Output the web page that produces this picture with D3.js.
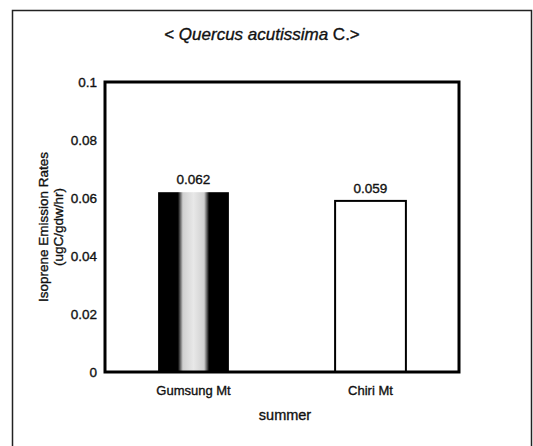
<!DOCTYPE html>
<html><head><meta charset="utf-8">
<script src="https://cdn.jsdelivr.net/npm/d3@7"></script>
<style>body{margin:0;background:#fff}svg{display:block}text{font-family:"Liberation Sans",Arial,sans-serif;fill:#111;stroke:#111;stroke-width:0.35px}</style>
</head><body>
<script>
const categories = ["Gumsung Mt", "Chiri Mt"];
const values = [0.062, 0.059];
const valueLabels = ["0.062", "0.059"];
const tickValues = [0, 0.02, 0.04, 0.06, 0.08, 0.1];
const tickLabels = ["0", "0.02", "0.04", "0.06", "0.08", "0.1"];
const titleParts = [["< ", "normal"], ["Quercus acutissima", "italic"], [" C.>", "normal"]];
const yTitle = ["Isoprene Emission Rates", "(ugC/gdw/hr)"];
const xTitle = "summer";

const W = 533, H = 446;
const m = {left: 105, top: 82, right: 459, bottom: 372};
const svg = d3.select("body").append("svg").attr("width", W).attr("height", H);

// outer frame
svg.append("rect").attr("x", 12.5).attr("y", 10.5).attr("width", 519).attr("height", 460)
  .attr("fill", "none").attr("stroke", "#222").attr("stroke-width", 1.5);

const defs = svg.append("defs");
const g1 = defs.append("linearGradient").attr("id", "gsg").attr("x1", "0").attr("x2", "1").attr("y1", "0").attr("y2", "0");
[[0,"#000"],[0.28,"#000"],[0.35,"#d0d0d0"],[0.5,"#e8e8e8"],[0.65,"#d0d0d0"],[0.72,"#000"],[1,"#000"]]
  .forEach(([o,c]) => g1.append("stop").attr("offset", o).attr("stop-color", c));

const x = d3.scaleBand().domain(categories).range([m.left, m.right]).paddingInner(0.6).paddingOuter(0.3);
const y = d3.scaleLinear().domain([0, 0.1]).range([m.bottom, m.top]);

// title
const t = svg.append("text").attr("x", 262).attr("y", 40).attr("text-anchor", "middle").style("font-size", "17px");
titleParts.forEach(([s, st]) => t.append("tspan").text(s).style("font-style", st));

// bars
svg.selectAll("rect.bar").data(categories).join("rect").attr("class", "bar")
  .attr("x", d => x(d)).attr("width", x.bandwidth())
  .attr("y", (d, i) => y(values[i])).attr("height", (d, i) => y(0) - y(values[i]))
  .attr("fill", (d, i) => i === 0 ? "url(#gsg)" : "#fff")
  .attr("stroke", (d, i) => i === 0 ? "none" : "#000").attr("stroke-width", 2);

// value labels
svg.selectAll("text.val").data(categories).join("text").attr("class", "val")
  .attr("x", d => x(d) + x.bandwidth() / 2).attr("y", (d, i) => y(values[i]) - 8)
  .attr("text-anchor", "middle").style("font-size", "13.5px").text((d, i) => valueLabels[i]);

// y axis
const ya = d3.axisLeft(y).tickValues(tickValues).tickFormat((d, i) => tickLabels[i]).tickSize(0).tickPadding(8);
const yg = svg.append("g").attr("transform", `translate(${m.left},0)`).call(ya);
yg.select(".domain").remove();
yg.selectAll("text").style("font-size", "13.5px").attr("fill", "#111").style("font-family", "Liberation Sans, Arial, sans-serif");

// x axis labels
const xa = d3.axisBottom(x).tickSize(0).tickPadding(14);
const xg = svg.append("g").attr("transform", `translate(0,${m.bottom})`).call(xa);
xg.select(".domain").remove();
xg.selectAll("text").style("font-size", "13px").attr("fill", "#111").style("font-family", "Liberation Sans, Arial, sans-serif");

// plot frame
svg.append("rect").attr("x", m.left).attr("y", m.top).attr("width", m.right - m.left).attr("height", m.bottom - m.top)
  .attr("fill", "none").attr("stroke", "#000").attr("stroke-width", 3);

// axis titles
svg.append("text").attr("x", (m.left + m.right) / 2 + 3).attr("y", 420).attr("text-anchor", "middle")
  .style("font-size", "14.5px").text(xTitle);
yTitle.forEach((s, i) => {
  svg.append("text").attr("transform", `translate(${48 + i * 15},${(m.top + m.bottom) / 2}) rotate(-90)`)
    .attr("text-anchor", "middle").style("font-size", "13.5px").text(s);
});
</script>
</body></html>
